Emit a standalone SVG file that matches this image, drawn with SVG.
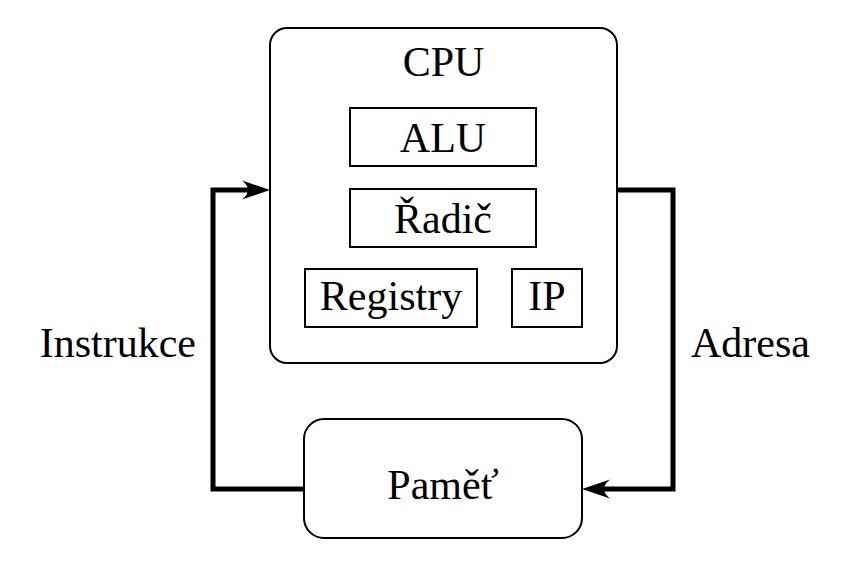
<svg xmlns="http://www.w3.org/2000/svg" width="844" height="587" viewBox="0 0 844 587">
<style>
.box{fill:#fff;stroke:#000;stroke-width:2}
text{font-family:'Liberation Serif','Times New Roman',serif;font-size:42px;fill:#000}
.c{text-anchor:middle}
.conn{fill:none;stroke:#000;stroke-width:5;stroke-linejoin:miter}
</style>
<defs>
<marker id="arr" markerUnits="userSpaceOnUse" markerWidth="30" markerHeight="24" refX="8" refY="12" orient="auto" overflow="visible">
<path d="M28,12 L0,2.5 Q12,12 0,21.5 Z" fill="#000"/>
</marker>
</defs>
<rect width="844" height="587" fill="#fff"/>
<g id="connectors">
<path class="conn" d="M304,489 H213 V190 H250" marker-end="url(#arr)"/>
<path class="conn" d="M617,190 H673 V489 H602" marker-end="url(#arr)"/>
</g>
<g id="cpu">
<rect class="box" x="270" y="28" width="347" height="335" rx="17"/>
<text class="c" x="443.5" y="76">CPU</text>
</g>
<g id="alu">
<rect class="box" x="350" y="108" width="186" height="58"/>
<text class="c" x="443" y="152">ALU</text>
</g>
<g id="radic">
<rect class="box" x="350" y="189" width="186" height="58"/>
<text class="c" x="443" y="233">Řadič</text>
</g>
<g id="registry">
<rect class="box" x="305" y="269" width="172" height="58"/>
<text class="c" x="391" y="310">Registry</text>
</g>
<g id="ip">
<rect class="box" x="512" y="269" width="70" height="58"/>
<text class="c" x="547" y="310">IP</text>
</g>
<g id="pamet">
<rect class="box" x="304" y="419" width="278" height="119" rx="20"/>
<text class="c" x="443" y="499">Paměť</text>
</g>
<g id="labels">
<text x="196" y="357" text-anchor="end">Instrukce</text>
<text x="691" y="357">Adresa</text>
</g>
</svg>
